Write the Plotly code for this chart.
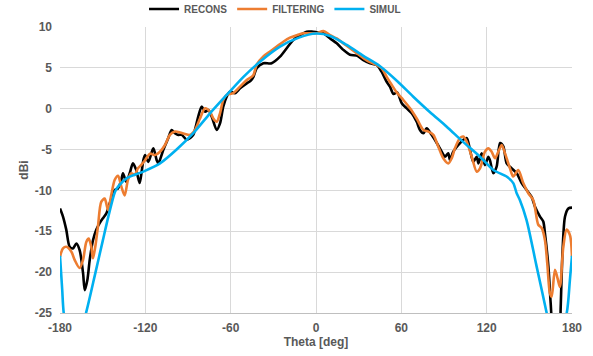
import plotly.graph_objects as go

recons_theta = [-180, -177.9, -175.6, -173.2, -170.9, -168.5, -166.2, -163.8, -162.6, -160.8, -159.1,
                -156.8, -154.5, -152.1, -149.8, -147.4, -145.1, -141.5, -139.2, -136.9, -135.7, -133.4,
                -131.0, -128.7, -126.4, -124.0, -122.5, -121.4, -120.2, -117.9, -114.4, -112.0, -110.9,
                -107.4, -103.9, -101.5, -99.2, -96.8, -94.4, -90.9, -88.6, -86.3, -82.8, -80.4, -78.0,
                -75.7, -73.3, -69.8, -67.5, -65.2, -62.8, -60.5, -57.0, -53.4, -48.7, -46.0, -44.0,
                -41.7, -37.0, -31.2, -25.3, -20.6, -16.0, -11.3, -6.6, -3.0, 0.5, 5.2, 9.9, 14.6, 19.2,
                23.9, 28.6, 33.3, 38.0, 42.7, 46.2, 49.7, 52.0, 54.5, 57.0, 60.3, 63.8, 67.3, 70.8, 73.1,
                75.5, 77.8, 81.3, 84.9, 88.4, 90.7, 93.0, 94.2, 96.5, 100.1, 103.6, 106.0, 108.3, 110.6,
                113.0, 114.2, 116.5, 118.8, 121.2, 122.3, 124.7, 127.0, 129.4, 131.7, 134.1, 137.6,
                141.1, 144.6, 148.1, 151.6, 154.0, 157.5, 159.8, 161.0, 163.4, 165.0, 166.5, 169.0,
                171.5, 172.0, 173.4, 175.1, 177.4, 180]
recons_dbi = [-12.2, -13.2, -14.8, -16.9, -17.1, -16.5, -17.3, -20.1, -22.2, -21.0, -18.5,
              -16.1, -14.8, -14.0, -13.4, -12.8, -11.6, -9.95, -9.74, -8.72, -7.9, -8.93,
              -7.9, -6.68, -7.5, -9.1, -7.6, -6.3, -5.67, -6.5, -4.85, -6.3, -6.7,
              -5.05, -3.6, -2.6, -3.0, -3.2, -3.2, -3.8, -3.6, -3.2, -0.97, 0.25, -0.37,
              -0.16, -0.97, -2.6, -1.8, 0.25, 1.47, 2.09, 1.9, 2.5, 3.1, 3.4, 3.9,
              4.95, 5.56, 5.56, 6.37, 7.4, 8.4, 9.0, 9.43, 9.43, 9.35, 9.23, 8.6, 8.0, 7.2,
              6.6, 6.5, 5.96, 5.56, 5.35, 4.5, 3.3, 2.7, 1.8, 2.0, 0.66, 0.05, -0.56, -1.6, -2.6,
              -3.0, -2.4, -3.2, -4.2, -5.26, -5.87, -5.46, -6.3, -5.26, -4.44, -3.8, -3.6, -5.05, -6.5,
              -5.87, -6.7, -5.46, -6.9, -5.87, -6.3, -7.9, -7.1, -4.2, -4.6, -6.7, -7.3,
              -7.9, -9.1, -9.95, -10.8, -12.0, -13.2, -13.8, -15.3, -19.3, -23.8, -27.0, -28.0,
              -27.0, -24.6, -17.3, -13.2, -12.2, -12.1]

filt_theta = [-180, -177.9, -175.6, -172.0, -169.7, -166.2, -163.8, -161.5, -159.8, -158.0, -156.8,
              -155.2, -153.3, -151.0, -148.6, -146.2, -144.0, -141.5, -139.2, -136.9, -134.5, -132.2,
              -129.9, -127.5, -125.2, -123.0, -120.2, -116.7, -113.2, -109.7, -106.2, -102.7, -99.2,
              -95.6, -92.1, -88.6, -85.1, -81.6, -78.0, -74.5, -72.2, -69.8, -67.5, -65.2, -62.8,
              -58.1, -53.4, -48.7, -44.1, -41.7, -37.0, -32.3, -27.6, -23.0, -18.3, -13.6, -8.9,
              -4.2, 0.5, 5.2, 9.9, 14.6, 19.2, 23.9, 28.6, 33.3, 38.0, 42.7, 46.2, 49.7, 53.3, 56.7,
              61.4, 66.1, 70.8, 75.5, 79.0, 82.5, 86.0, 89.5, 93.0, 95.4, 97.7, 101.2, 103.6, 106.0,
              109.5, 113.0, 115.3, 118.8, 121.2, 123.5, 125.9, 128.2, 130.6, 132.9, 136.4, 138.7,
              142.2, 145.7, 149.3, 152.8, 156.3, 158.7, 161.0, 162.6, 164.5, 165.7, 168.0, 169.9,
              171.5, 173.9, 176.2, 178.6, 180]
filt_dbi = [-18.1, -17.1, -16.9, -17.5, -18.5, -19.5, -18.5, -16.3, -15.9, -16.9, -18.3,
            -16.9, -14.4, -11.4, -11.0, -12.4, -10.6, -8.7, -8.2, -9.5, -10.6, -8.7,
            -7.9, -8.1, -7.3, -6.9, -6.3, -5.5, -5.67, -5.26, -4.44, -3.2, -2.8,
            -2.9, -3.1, -3.2, -2.6, -1.2, 0.05, -0.37, -1.2, -1.6, -0.56, 1.07, 1.68,
            1.9, 2.7, 3.5, 4.1, 5.4, 6.4, 7.0, 7.6, 8.2, 8.7, 9.0, 9.23,
            9.23, 9.23, 9.5, 9.0, 8.6, 8.0, 7.4, 6.8, 6.2, 5.7, 5.35, 4.95, 3.9, 2.9, 2.0,
            1.07, 0.05, -1.2, -2.6, -2.8, -3.2, -4.65, -6.07, -6.7, -6.07, -4.85, -3.6, -3.4, -4.04,
            -5.87, -7.7, -7.3, -5.26, -4.85, -5.26, -6.07, -5.26, -4.44, -5.46, -7.3, -8.3,
            -7.5, -9.1, -10.35, -11.2, -14.2, -14.6, -16.1, -18.9, -22.6, -23.0, -19.7, -20.8,
            -21.8, -16.9, -14.8, -15.5, -18.1]

simul_theta = [-180, -178.5, -177, -170, -161.7, -155, -150, -146, -141.3, -139, -133, -121.4,
               -109.7, -98, -86.3, -74.5, -62.8, -51, -39.4, -25.3, -12, 0, 10, 21.6, 33, 45, 57,
               68.4, 80, 91.9, 103, 115.3, 124.7, 134, 138.7, 141.1, 143.4, 148, 155, 162.2, 168,
               176.3, 178.5, 180]
simul_dbi = [-18.0, -22.0, -25.5, -30.0, -25.0, -20.0, -16.2, -13.2, -10.15, -9.5, -8.5, -7.7,
             -6.7, -5.0, -3.0, -0.56, 1.68, 3.9, 5.75, 7.6, 8.7, 9.2, 8.9, 7.8, 6.5, 5.2, 3.4,
             1.47, -0.4, -2.2, -4.0, -5.87, -7.5, -8.3, -9.1, -10.35, -11.2, -13.6, -19.2, -25.0,
             -30.0, -25.0, -21.0, -18.0]

x_ticks = [-180, -120, -60, 0, 60, 120, 180]
y_ticks = [-25, -20, -15, -10, -5, 0, 5, 10]

font_fam = "Liberation Sans, Arial, sans-serif"
grey = "#595959"

fig = go.Figure()
fig.add_trace(go.Scatter(x=recons_theta, y=recons_dbi, name="RECONS", mode="lines",
                         line=dict(color="#000000", width=2.6, shape="spline", smoothing=0.8)))
fig.add_trace(go.Scatter(x=filt_theta, y=filt_dbi, name="FILTERING", mode="lines",
                         line=dict(color="#ED7D31", width=2.6, shape="spline", smoothing=0.8)))
fig.add_trace(go.Scatter(x=simul_theta, y=simul_dbi, name="SIMUL", mode="lines",
                         line=dict(color="#00B0F0", width=2.6, shape="spline", smoothing=0.8)))

fig.update_layout(
    width=593, height=356,
    margin=dict(l=60, r=21, t=27, b=43, autoexpand=False),
    plot_bgcolor="white", paper_bgcolor="white",
    font=dict(family=font_fam, color=grey, size=12),
    showlegend=True,
    legend=dict(orientation="h", x=0.42, xanchor="center", y=1.063, yanchor="middle",
                font=dict(family=font_fam, size=10, color=grey, weight="bold"),
                itemwidth=30, tracegroupgap=0, bgcolor="rgba(0,0,0,0)"),
    xaxis=dict(range=[-180, 180], tickvals=x_ticks, ticktext=[str(v) for v in x_ticks],
               showgrid=True, gridcolor="#D9D9D9", gridwidth=1, zeroline=False,
               showline=True, linecolor="#BFBFBF", linewidth=1, ticks="",
               ticklabelstandoff=4,
               tickfont=dict(family=font_fam, size=12, color=grey, weight="bold"),
               title=dict(text="Theta [deg]", standoff=3,
                          font=dict(family=font_fam, size=12, color=grey, weight="bold"))),
    yaxis=dict(range=[-25, 10], tickvals=y_ticks, ticktext=[str(v) for v in y_ticks],
               showgrid=True, gridcolor="#D9D9D9", gridwidth=1, zeroline=False,
               showline=False, ticks="", ticklabelstandoff=7,
               tickfont=dict(family=font_fam, size=12, color=grey, weight="bold"),
               title=dict(text="dBi", standoff=3,
                          font=dict(family=font_fam, size=12, color=grey, weight="bold"))),
)

fig.write_html("out.html", config={"displayModeBar": False},
               post_script="document.body.style.margin='0';document.body.style.overflow='hidden';")
